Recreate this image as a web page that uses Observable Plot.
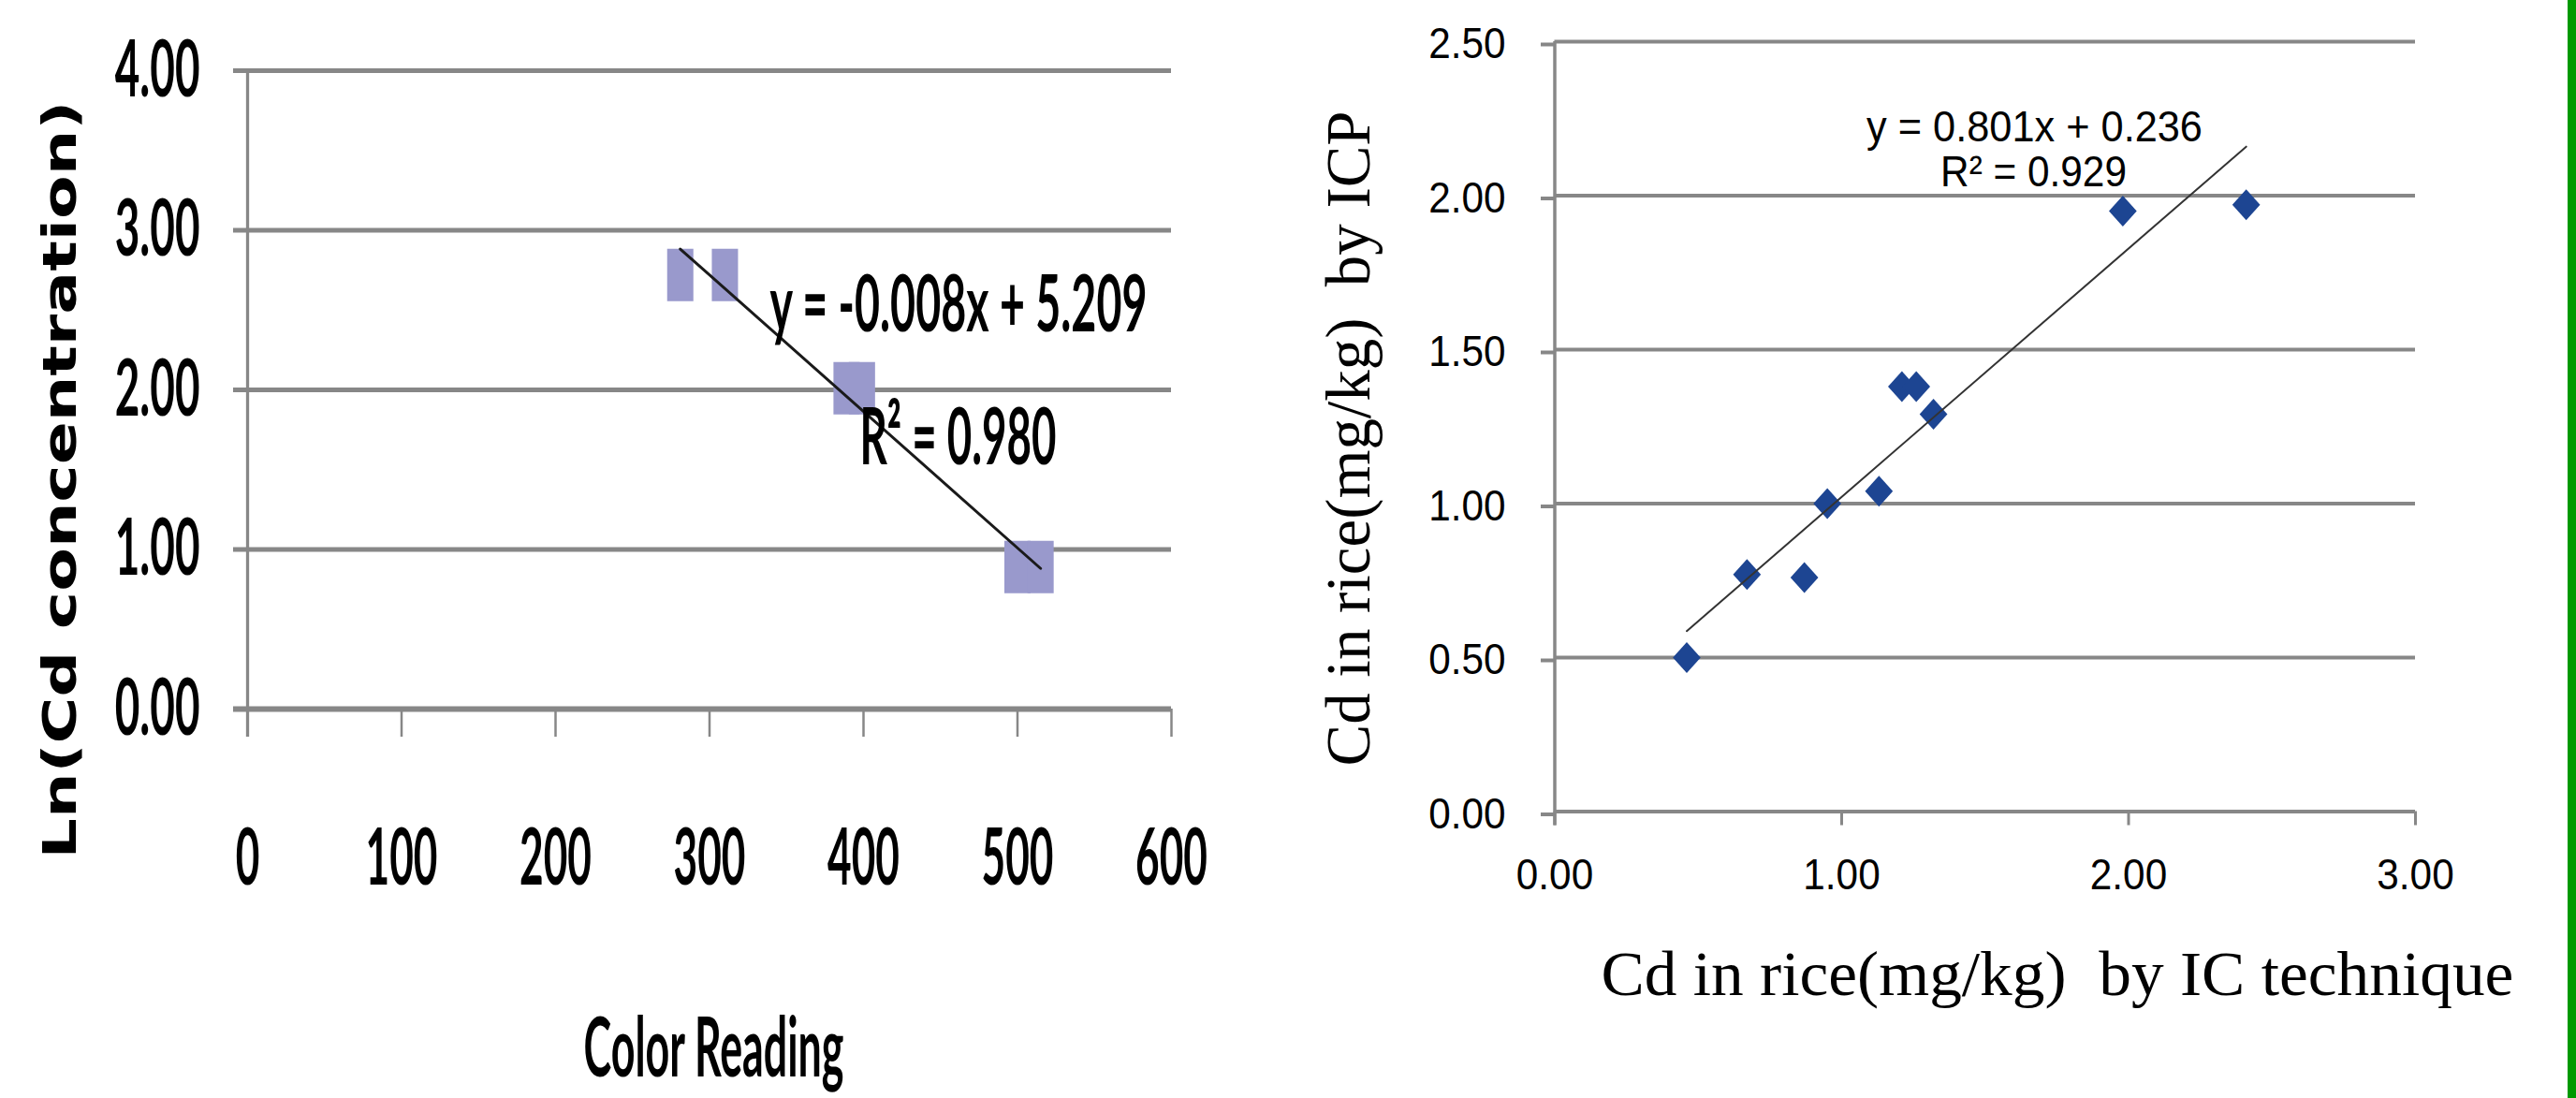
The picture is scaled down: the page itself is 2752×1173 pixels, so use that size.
<!DOCTYPE html>
<html><head><meta charset="utf-8">
<script src="https://cdn.jsdelivr.net/npm/d3@7"></script>
<script src="https://cdn.jsdelivr.net/npm/@observablehq/plot@0.6"></script>
<style>
html,body{margin:0;padding:0;background:#fff;}
#page{position:relative;width:2752px;height:1173px;overflow:hidden;background:#fff;}
#left{position:absolute;left:0;top:0;width:1330px;height:1173px;}
#right{position:absolute;left:1330px;top:0;width:1422px;height:1173px;}
#edge{position:absolute;left:2743px;top:0;width:9px;height:1173px;background:#009900;}
svg text{white-space:pre;}
</style></head><body>
<div id="page"><div id="left"></div><div id="right"></div><div id="edge"></div></div>
<script>
// ---- data ----
const colorReading = [281, 310, 389, 399, 500, 515];
const lnCd = [2.72, 2.72, 2.01, 2.01, 0.89, 0.89];
const icTechnique = [0.46, 0.67, 0.87, 0.95, 1.13, 1.21, 1.26, 1.32, 1.98, 2.41];
const icp = [0.50, 0.77, 0.76, 1.00, 1.04, 1.38, 1.38, 1.29, 1.95, 1.97];
const leftXTicks = [0, 100, 200, 300, 400, 500, 600];
const leftYTicks = [0, 1, 2, 3, 4];
const rightXTicks = [0, 1, 2, 3];
const rightYTicks = [0, 0.5, 1, 1.5, 2, 2.5];
const leftXTitle = "Color Reading";
const leftYTitle = "Ln(Cd concentration)";
const rightXTitle = "Cd in rice(mg/kg)  by IC technique";
const rightYTitle = "Cd in rice(mg/kg)  by ICP";
const leftEquation = ["y = -0.008x + 5.209", "R² = 0.980"];
const rightEquation = ["y = 0.801x + 0.236", "R² = 0.929"];

const leftData = colorReading.map((x, i) => ({x, y: lnCd[i]}));
const rightData = icTechnique.map((x, i) => ({x, y: icp[i]}));

const grey = "#878787";
const tallBox = {draw(ctx, size) {const r = Math.sqrt(size / Math.PI); ctx.moveTo(-r / 2, -r); ctx.lineTo(r / 2, -r); ctx.lineTo(r / 2, r); ctx.lineTo(-r / 2, r); ctx.closePath();}};
const diamond = {draw(ctx, size) {const r = Math.sqrt(size / Math.PI); ctx.moveTo(0, -r); ctx.lineTo(r * 0.9, 0); ctx.lineTo(0, r); ctx.lineTo(-r * 0.9, 0); ctx.closePath();}};

const bold = {fontFamily: "Lato", fontWeight: "bold", fill: "#000"};

const left = Plot.plot({
  width: 1330, height: 1173,
  marginLeft: 264, marginRight: 79, marginTop: 75, marginBottom: 416,
  x: {domain: [0, 600], axis: null},
  y: {domain: [0, 4], axis: null},
  style: {background: "transparent", overflow: "visible"},
  marks: [
    Plot.gridY(leftYTicks, {stroke: grey, strokeOpacity: 1, strokeWidth: 5}),
    Plot.axisY(leftYTicks, {tickSize: 15, tickPadding: 36, stroke: grey, strokeWidth: 5, tickFormat: d => d.toFixed(2), fontSize: 85, ...bold, label: null}),
    Plot.axisX(leftXTicks, {tickSize: 30, tickPadding: 97, stroke: grey, strokeWidth: 2.5, tickFormat: d => String(d), fontSize: 85, ...bold, label: null}),
    Plot.ruleX([0], {stroke: grey, strokeWidth: 3.3, insetBottom: -30}),
    Plot.ruleY([0], {stroke: grey, strokeWidth: 6, insetLeft: -15}),
    Plot.dot(leftData, {x: "x", y: "y", symbol: tallBox, r: 28, fill: "#9999cc"}),
    Plot.linearRegressionY(leftData, {x: "x", y: "y", ci: 0, stroke: "#1a1a1a", strokeWidth: 3}),
    Plot.text([leftEquation[0]], {text: d => d, frameAnchor: "top-left", dx: 558, dy: 278, textAnchor: "start", lineAnchor: "bottom", fontSize: 85, ...bold}),
    Plot.text([leftEquation[1]], {text: d => d, frameAnchor: "top-left", dx: 654, dy: 420, textAnchor: "start", lineAnchor: "bottom", fontSize: 85, ...bold}),
    Plot.text([leftXTitle], {text: d => d, frameAnchor: "top-left", dx: 498, dy: 1074, textAnchor: "middle", lineAnchor: "bottom", fontSize: 88, ...bold}),
    Plot.text([leftYTitle], {text: d => d, frameAnchor: "top-left", dx: -184, dy: 437, rotate: -90, textAnchor: "middle", lineAnchor: "bottom", fontSize: 50, fontFamily: "DejaVu Sans", fontWeight: "bold", fill: "#000"})
  ]
});

const right = Plot.plot({
  width: 1422, height: 1173,
  marginLeft: 330.5, marginRight: 172, marginTop: 44, marginBottom: 306.5,
  x: {domain: [0, 3], axis: null},
  y: {domain: [0, 2.5], axis: null},
  style: {background: "transparent", overflow: "visible"},
  marks: [
    Plot.gridY(rightYTicks, {stroke: grey, strokeOpacity: 1, strokeWidth: 4}),
    Plot.axisY(rightYTicks, {tickSize: 14.5, tickPadding: 38, stroke: grey, strokeWidth: 4, tickFormat: d => d.toFixed(2), fontSize: 46, fontFamily: "Liberation Sans", fill: "#000", dy: 3, label: null}),
    Plot.axisX(rightXTicks, {tickSize: 15, tickPadding: 35.5, stroke: grey, strokeWidth: 3, tickFormat: d => d.toFixed(2), fontSize: 46, fontFamily: "Liberation Sans", fill: "#000", label: null}),
    Plot.ruleX([0], {stroke: grey, strokeWidth: 3.5, insetBottom: -15}),
    Plot.dot(rightData, {x: "x", y: "y", symbol: diamond, r: 16.5, fill: "#1d4592"}),
    Plot.linearRegressionY(rightData, {x: "x", y: "y", ci: 0, stroke: "#333", strokeWidth: 2}),
    Plot.text([rightEquation[0]], {text: d => d, frameAnchor: "top-left", dx: 512.5, dy: 106, textAnchor: "middle", lineAnchor: "bottom", fontSize: 46, fontFamily: "Liberation Sans", fill: "#000"}),
    Plot.text([rightEquation[1]], {text: d => d, frameAnchor: "top-left", dx: 511.5, dy: 154, textAnchor: "middle", lineAnchor: "bottom", fontSize: 46, fontFamily: "Liberation Sans", fill: "#000"}),
    Plot.text([rightXTitle], {text: d => d, frameAnchor: "top-left", dx: 49.5, dy: 1018, textAnchor: "start", lineAnchor: "bottom", fontSize: 68, fontFamily: "Liberation Serif", fill: "#000"}),
    Plot.text([rightYTitle], {text: d => d, frameAnchor: "top-left", dx: -198.5, dy: 424, rotate: -90, textAnchor: "middle", lineAnchor: "bottom", fontSize: 68, fontFamily: "Liberation Serif", fill: "#000"})
  ]
});

document.getElementById("left").appendChild(left);
document.getElementById("right").appendChild(right);

// squeeze / stretch text along its own direction, keeping its anchor point fixed
function scaleText(t, f) {
  const x = parseFloat(t.getAttribute("x")) || 0;
  const tr = t.getAttribute("transform") || "";
  t.setAttribute("transform", `${tr} translate(${x},0) scale(${f},1) translate(${-x},0)`);
}
function squeezeTicks(svg, label, factor) {
  svg.querySelectorAll(`g[aria-label="${label}"] text`).forEach(t => scaleText(t, factor));
}
function squeezeText(svg, content, L) {
  svg.querySelectorAll("text").forEach(t => { if (t.textContent === content) scaleText(t, L / t.getComputedTextLength()); });
}
squeezeTicks(left, "x-axis tick label", 0.52);
squeezeTicks(left, "y-axis tick label", 0.54);
squeezeText(left, leftEquation[0], 403);
squeezeText(left, leftEquation[1], 210);
squeezeText(left, leftXTitle, 278);
squeezeText(left, leftYTitle, 810);
squeezeTicks(right, "x-axis tick label", 0.92);
squeezeTicks(right, "y-axis tick label", 0.92);
squeezeText(right, rightEquation[0], 359);
squeezeText(right, rightEquation[1], 199);
squeezeText(right, rightXTitle, 975);
squeezeText(right, rightYTitle, 700);
</script></body></html>
